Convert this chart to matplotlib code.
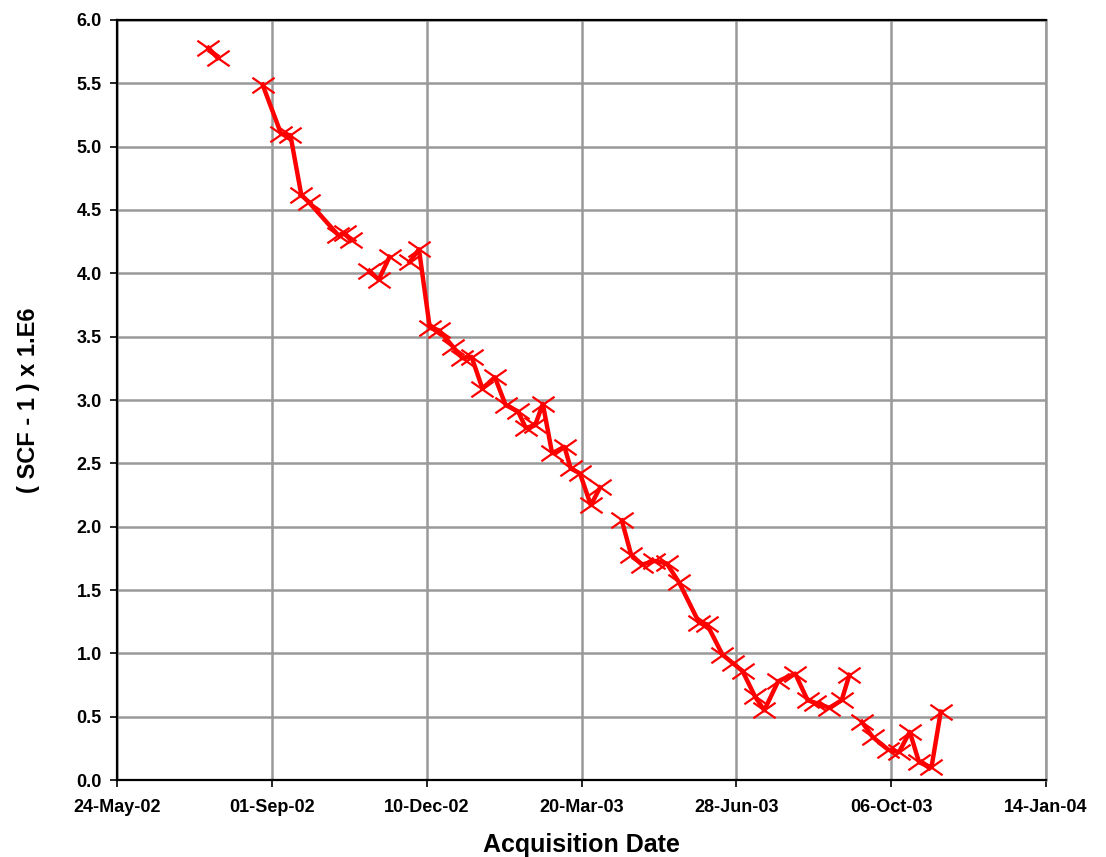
import datetime as dt

import matplotlib
matplotlib.use('Agg')
import matplotlib.pyplot as plt
import matplotlib.dates as mdates
import numpy as np
from matplotlib.path import Path


# acquisition dates and (SCF-1) x 1E6 values
dates = ['2002-07-22', '2002-07-28', '2002-08-26', '2002-09-07', '2002-09-13',
         '2002-09-20', '2002-09-25', '2002-10-14', '2002-10-18', '2002-10-22',
         '2002-11-03', '2002-11-09', '2002-11-16', '2002-11-29', '2002-12-05',
         '2002-12-12', '2002-12-18', '2002-12-27', '2003-01-02', '2003-01-08',
         '2003-01-15', '2003-01-23', '2003-01-30', '2003-02-07', '2003-02-12',
         '2003-02-18', '2003-02-23', '2003-03-01', '2003-03-09', '2003-03-13',
         '2003-03-19', '2003-03-26', '2003-04-01', '2003-04-15', '2003-04-21',
         '2003-04-28', '2003-05-06', '2003-05-14', '2003-05-22', '2003-06-04',
         '2003-06-09', '2003-06-19', '2003-06-26', '2003-07-02', '2003-07-10',
         '2003-07-16', '2003-07-25', '2003-08-05', '2003-08-13', '2003-08-18',
         '2003-08-27', '2003-09-04', '2003-09-09', '2003-09-17', '2003-09-24',
         '2003-10-04', '2003-10-11', '2003-10-18', '2003-10-24', '2003-11-01',
         '2003-11-07']
scf = [5.78, 5.70, 5.49, 5.10, 5.09,
       4.62, 4.56, 4.30, 4.32, 4.26,
       4.02, 3.95, 4.13, 4.09, 4.19,
       3.57, 3.55, 3.42, 3.33, 3.34,
       3.09, 3.18, 2.96, 2.91, 2.78,
       2.80, 2.97, 2.58, 2.63, 2.46,
       2.42, 2.17, 2.31, 2.05, 1.78,
       1.70, 1.73, 1.71, 1.56, 1.24,
       1.23, 0.99, 0.92, 0.86, 0.66,
       0.55, 0.78, 0.84, 0.63, 0.61,
       0.57, 0.63, 0.83, 0.46, 0.34,
       0.24, 0.22, 0.38, 0.14, 0.10,
       0.54]
# line is broken after these points (missing acquisitions)
breaks = [1, 9, 12, 32, 52]

x = np.array([mdates.date2num(dt.datetime.strptime(d, '%Y-%m-%d')) for d in dates])
y = np.array(scf)

# copy with NaN inserted so the line has gaps
x_line = []
y_line = []
for i in range(len(x)):
    x_line.append(x[i])
    y_line.append(y[i])
    if i in breaks:
        x_line.append(np.nan)
        y_line.append(np.nan)

# wide flat cross marker
cross = Path([(-1, -0.7), (1, 0.7), (-1, 0.7), (1, -0.7)],
             [Path.MOVETO, Path.LINETO, Path.MOVETO, Path.LINETO])

plt.rcParams['font.family'] = ['Liberation Sans', 'DejaVu Sans']
plt.rcParams['font.weight'] = 'bold'

fig = plt.figure(figsize=(11.06, 8.57), dpi=100)
ax = fig.add_axes([0.1058, 0.0898, 0.84, 0.8869])

ax.plot(x_line, y_line, color='#FF0000', linewidth=3.2, zorder=3)
ax.plot(x, y, linestyle='none', marker=cross, markersize=16,
        markeredgecolor='#FF0000', markerfacecolor='none',
        markeredgewidth=1.6, zorder=4)

start = dt.datetime(2002, 5, 24)
ticks = [mdates.date2num(start + dt.timedelta(days=100 * k)) for k in range(7)]
ax.set_xticks(ticks)
ax.set_xlim(ticks[0], ticks[-1])
ax.xaxis.set_major_formatter(mdates.DateFormatter('%d-%b-%y'))

ax.set_ylim(0, 6)
ax.set_yticks(np.arange(0, 6.01, 0.5))
ax.yaxis.set_major_formatter(matplotlib.ticker.FormatStrFormatter('%.1f'))

ax.grid(True, color='#999999', linewidth=1.8, zorder=0)
ax.set_axisbelow(True)
for side in ['top', 'left', 'bottom']:
    ax.spines[side].set_color('black')
    ax.spines[side].set_linewidth(1.6)
ax.spines['right'].set_color('#999999')
ax.spines['right'].set_linewidth(1.8)

ax.tick_params(axis='both', direction='out', length=5, width=1.2,
               colors='black')
ax.tick_params(axis='x', pad=9, labelsize=13)
ax.tick_params(axis='y', pad=6, labelsize=13)
for lab in ax.get_xticklabels() + ax.get_yticklabels():
    lab.set_fontweight('bold')

ax.set_xlabel('Acquisition Date', fontsize=18, fontweight='bold', labelpad=12)
ax.set_ylabel('( SCF - 1 ) x 1.E6', fontsize=17, fontweight='bold', labelpad=26)

fig.savefig('out.png', dpi=100)
